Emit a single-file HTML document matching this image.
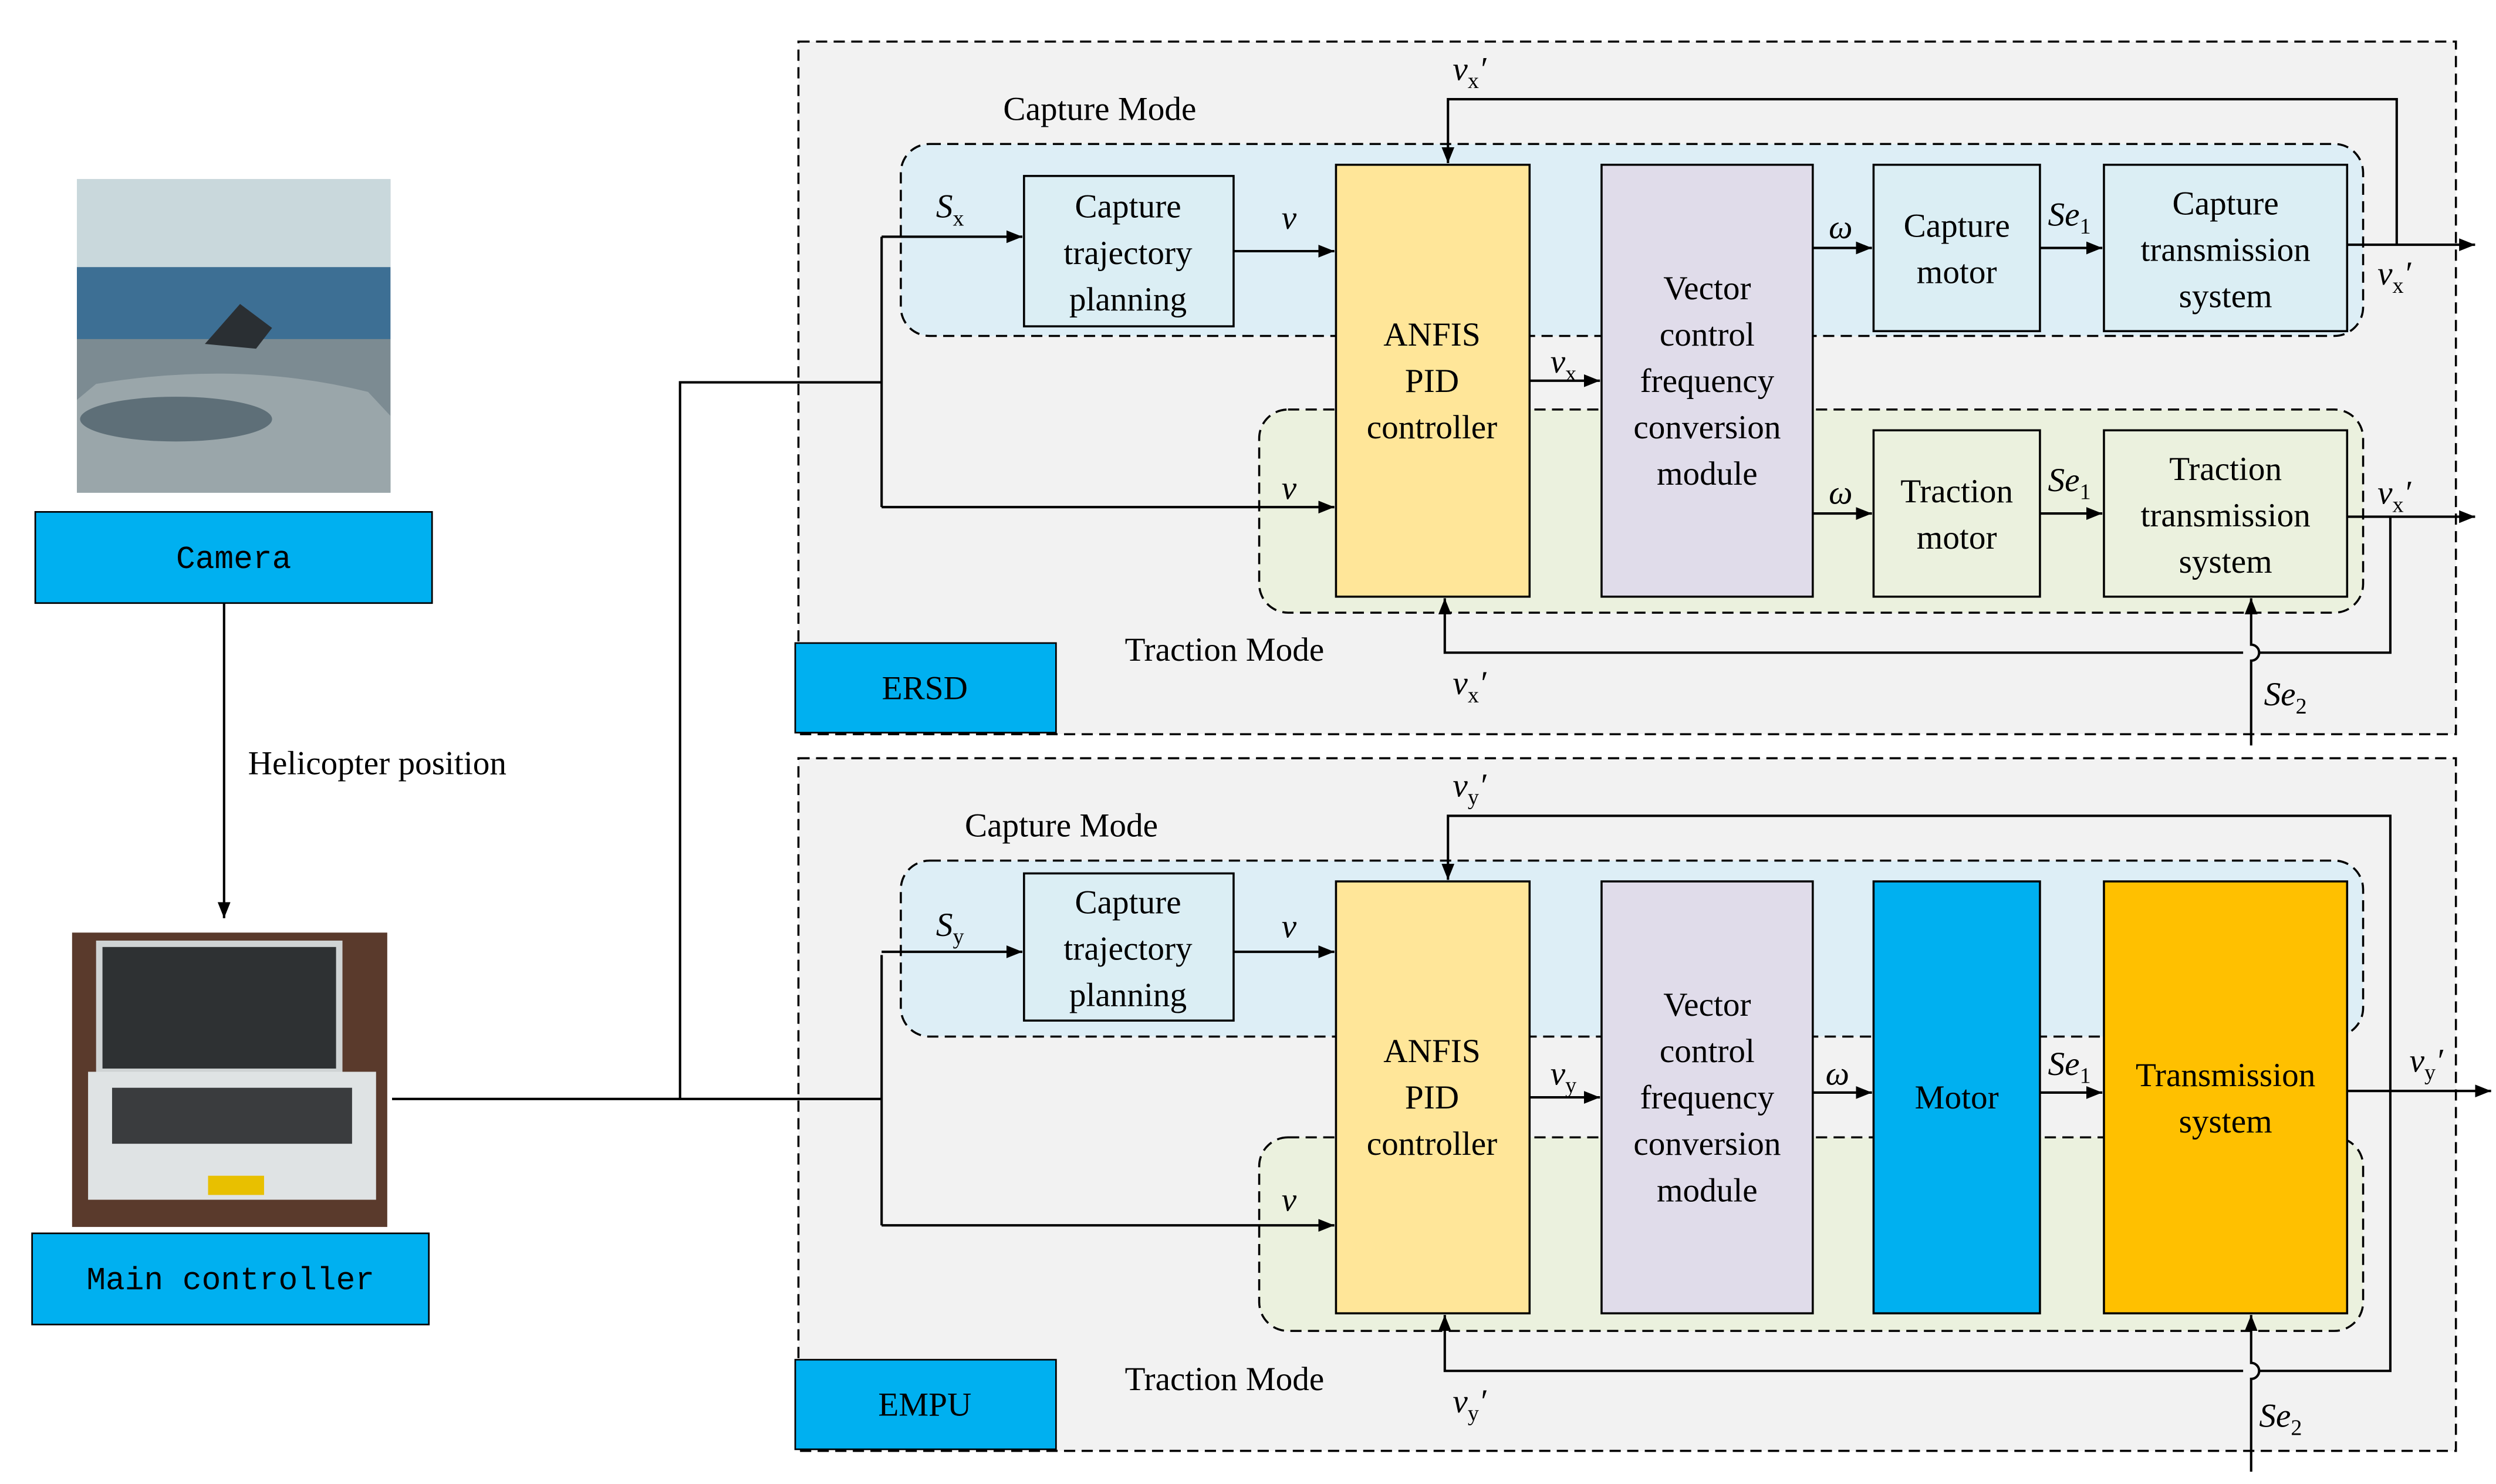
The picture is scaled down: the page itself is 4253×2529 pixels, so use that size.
<!DOCTYPE html>
<html><head><meta charset="utf-8"><style>html,body{margin:0;padding:0;background:#fff}svg{display:block}svg text{font-family:"Liberation Serif","DejaVu Serif",serif}svg .m{font-family:"Liberation Mono","DejaVu Sans Mono",monospace}tspan.s{font-style:normal}</style></head><body>
<svg width="4253" height="2529" viewBox="0 0 1560 927.7" xmlns="http://www.w3.org/2000/svg" font-size="21">
<defs><marker id="a" markerWidth="10" markerHeight="8" refX="10" refY="4" orient="auto" markerUnits="userSpaceOnUse"><path d="M0,0L10,4L0,8z" fill="#000"/></marker></defs>
<rect width="1560" height="928" fill="#fff"/>
<!-- left photos -->
<rect x="48" y="112" width="196" height="196" fill="#8a9aa5"/>
<rect x="48" y="112" width="196" height="55" fill="#c9d8dc"/>
<rect x="48" y="167" width="196" height="45" fill="#3d6f94"/>
<rect x="48" y="212" width="196" height="96" fill="#7c8b92"/>
<path d="M60 240 Q150 225 230 245 L244 260 L244 308 L48 308 L48 250z" fill="#9aa6aa"/>
<ellipse cx="110" cy="262" rx="60" ry="14" fill="#5e6f78"/>
<path d="M128 215 L150 190 L170 205 L160 218z" fill="#2a2f33"/>
<rect x="45" y="583" width="197" height="184" fill="#5a3a2c"/>
<rect x="62" y="590" width="150" height="80" fill="#2e3133" stroke="#cfd3d4" stroke-width="4"/>
<rect x="55" y="670" width="180" height="80" fill="#dfe3e4"/>
<rect x="70" y="680" width="150" height="35" fill="#3a3c3e"/>
<rect x="130" y="735" width="35" height="12" fill="#e8c000"/>
<!-- left label boxes -->
<g font-size="20" text-anchor="middle">
<rect x="22" y="320" width="248" height="57" fill="#00b0f0" stroke="#000"/><text class="m" x="146" y="355">Camera</text>
<rect x="20" y="771" width="248" height="57" fill="#00b0f0" stroke="#000"/><text class="m" x="144" y="806">Main controller</text>
</g>
<line x1="140" y1="377" x2="140" y2="574" stroke="#000" stroke-width="1.5" marker-end="url(#a)"/>
<text x="155" y="484">Helicopter position</text>

<!-- ERSD -->
<g>
<rect x="499" y="26" width="1036" height="433" fill="#f2f2f2" stroke="#000" stroke-dasharray="7,4" stroke-width="1.3"/>
<rect x="563" y="90" width="914" height="120" rx="18" fill="#ddeef6" stroke="#000" stroke-dasharray="7,4" stroke-width="1.3"/>
<rect x="787" y="256" width="690" height="127" rx="18" fill="#ebf1de" stroke="#000" stroke-dasharray="7,4" stroke-width="1.3"/>
<g stroke="#000" stroke-width="1.3">
<rect x="640" y="110" width="131" height="94" fill="#dbeef4"/>
<rect x="835" y="103" width="121" height="270" fill="#ffe699"/>
<rect x="1001" y="103" width="132" height="270" fill="#e0dcea"/>
<rect x="1171" y="103" width="104" height="104" fill="#dbeef4"/>
<rect x="1315" y="103" width="152" height="104" fill="#dbeef4"/>
<rect x="1171" y="269" width="104" height="104" fill="#ebf1de"/>
<rect x="1315" y="269" width="152" height="104" fill="#ebf1de"/>
</g>
<rect x="497" y="402" width="163" height="56" fill="#00b0f0" stroke="#000"/>
<text x="578" y="437" text-anchor="middle">ERSD</text>
<g text-anchor="middle">
<text x="705" y="136">Capture</text><text x="705" y="165">trajectory</text><text x="705" y="194">planning</text>
<text x="895" y="216">ANFIS</text><text x="895" y="245">PID</text><text x="895" y="274">controller</text>
<text x="1067" y="187">Vector</text><text x="1067" y="216">control</text><text x="1067" y="245">frequency</text><text x="1067" y="274">conversion</text><text x="1067" y="303">module</text>
<text x="1223" y="148">Capture</text><text x="1223" y="177">motor</text>
<text x="1391" y="134">Capture</text><text x="1391" y="163">transmission</text><text x="1391" y="192">system</text>
<text x="1223" y="314">Traction</text><text x="1223" y="343">motor</text>
<text x="1391" y="300">Traction</text><text x="1391" y="329">transmission</text><text x="1391" y="358">system</text>
</g>
<text x="627" y="75">Capture Mode</text>
<text x="703" y="413">Traction Mode</text>
<g fill="none" stroke="#000" stroke-width="1.5">
<line x1="551" y1="148" x2="639" y2="148" marker-end="url(#a)"/>
<line x1="551" y1="317" x2="834" y2="317" marker-end="url(#a)"/>
<line x1="771" y1="157" x2="834" y2="157" marker-end="url(#a)"/>
<line x1="956" y1="238" x2="1000" y2="238" marker-end="url(#a)"/>
<line x1="1133" y1="155" x2="1170" y2="155" marker-end="url(#a)"/>
<line x1="1275" y1="155" x2="1314" y2="155" marker-end="url(#a)"/>
<line x1="1467" y1="153" x2="1547" y2="153" marker-end="url(#a)"/>
<path d="M1498 153 V62 H905 V102" marker-end="url(#a)"/>
<line x1="1133" y1="321" x2="1170" y2="321" marker-end="url(#a)"/>
<line x1="1275" y1="321" x2="1314" y2="321" marker-end="url(#a)"/>
<line x1="1467" y1="323" x2="1547" y2="323" marker-end="url(#a)"/>
<path d="M1494 323 V408 H1412 M1402 408 H903 V374" marker-end="url(#a)"/>
<path d="M1407 466 V413 A5 5 0 0 0 1407 403 V374" marker-end="url(#a)"/>
</g>
<g font-style="italic">
<text x="585" y="136">S<tspan class="s" font-size="14" dy="5">x</tspan></text>
<text x="801" y="143">v</text><text x="801" y="312">v</text>
<text x="969" y="233">v<tspan class="s" font-size="14" dy="5">x</tspan></text>
<text x="1143" y="149">ω</text><text x="1143" y="315">ω</text>
<text x="1280" y="141">Se<tspan class="s" font-size="14" dy="5">1</tspan></text>
<text x="1280" y="307">Se<tspan class="s" font-size="14" dy="5">1</tspan></text>
<text x="1486" y="178">v<tspan class="s" font-size="14" dy="5">x</tspan><tspan dy="-5">′</tspan></text>
<text x="1486" y="315">v<tspan class="s" font-size="14" dy="5">x</tspan><tspan dy="-5">′</tspan></text>
<text x="908" y="50">v<tspan class="s" font-size="14" dy="5">x</tspan><tspan dy="-5">′</tspan></text>
<text x="908" y="434">v<tspan class="s" font-size="14" dy="5">x</tspan><tspan dy="-5">′</tspan></text>
<text x="1415" y="441">Se<tspan class="s" font-size="14" dy="5">2</tspan></text>
</g>
</g>

<!-- EMPU -->
<g>
<rect x="499" y="474" width="1036" height="433" fill="#f2f2f2" stroke="#000" stroke-dasharray="7,4" stroke-width="1.3"/>
<rect x="563" y="538" width="914" height="110" rx="18" fill="#ddeef6" stroke="#000" stroke-dasharray="7,4" stroke-width="1.3"/>
<rect x="787" y="711" width="690" height="121" rx="18" fill="#ebf1de" stroke="#000" stroke-dasharray="7,4" stroke-width="1.3"/>
<g stroke="#000" stroke-width="1.3">
<rect x="640" y="546" width="131" height="92" fill="#dbeef4"/>
<rect x="835" y="551" width="121" height="270" fill="#ffe699"/>
<rect x="1001" y="551" width="132" height="270" fill="#e0dcea"/>
<rect x="1171" y="551" width="104" height="270" fill="#00b0f0"/>
<rect x="1315" y="551" width="152" height="270" fill="#ffc000"/>
</g>
<rect x="497" y="850" width="163" height="56" fill="#00b0f0" stroke="#000"/>
<text x="578" y="885" text-anchor="middle">EMPU</text>
<g text-anchor="middle">
<text x="705" y="571">Capture</text><text x="705" y="600">trajectory</text><text x="705" y="629">planning</text>
<text x="895" y="664">ANFIS</text><text x="895" y="693">PID</text><text x="895" y="722">controller</text>
<text x="1067" y="635">Vector</text><text x="1067" y="664">control</text><text x="1067" y="693">frequency</text><text x="1067" y="722">conversion</text><text x="1067" y="751">module</text>
<text x="1223" y="693">Motor</text>
<text x="1391" y="679">Transmission</text><text x="1391" y="708">system</text>
</g>
<text x="603" y="523">Capture Mode</text>
<text x="703" y="869">Traction Mode</text>
<g fill="none" stroke="#000" stroke-width="1.5">
<line x1="551" y1="595" x2="639" y2="595" marker-end="url(#a)"/>
<line x1="551" y1="766" x2="834" y2="766" marker-end="url(#a)"/>
<line x1="771" y1="595" x2="834" y2="595" marker-end="url(#a)"/>
<line x1="956" y1="686" x2="1000" y2="686" marker-end="url(#a)"/>
<line x1="1133" y1="683" x2="1170" y2="683" marker-end="url(#a)"/>
<line x1="1275" y1="683" x2="1314" y2="683" marker-end="url(#a)"/>
<line x1="1467" y1="682" x2="1557" y2="682" marker-end="url(#a)"/>
<path d="M1494 682 V510 H905 V550" marker-end="url(#a)"/>
<path d="M1494 682 V857 H1412 M1402 857 H903 V822" marker-end="url(#a)"/>
<path d="M1407 920 V862 A5 5 0 0 0 1407 852 V822" marker-end="url(#a)"/>
</g>
<g font-style="italic">
<text x="585" y="585">S<tspan class="s" font-size="14" dy="5">y</tspan></text>
<text x="801" y="586">v</text><text x="801" y="757">v</text>
<text x="969" y="678">v<tspan class="s" font-size="14" dy="5">y</tspan></text>
<text x="1141" y="678">ω</text>
<text x="1280" y="672">Se<tspan class="s" font-size="14" dy="5">1</tspan></text>
<text x="1506" y="670">v<tspan class="s" font-size="14" dy="5">y</tspan><tspan dy="-5">′</tspan></text>
<text x="908" y="498">v<tspan class="s" font-size="14" dy="5">y</tspan><tspan dy="-5">′</tspan></text>
<text x="908" y="883">v<tspan class="s" font-size="14" dy="5">y</tspan><tspan dy="-5">′</tspan></text>
<text x="1412" y="892">Se<tspan class="s" font-size="14" dy="5">2</tspan></text>
</g>
</g>

<!-- trunk (drawn on top) -->
<g fill="none" stroke="#000" stroke-width="1.5">
<path d="M245 687 H551 M425 687 V239 H551"/>
<path d="M551 148 V317"/><path d="M551 597 V766"/>
</g>
</svg>
</body></html>
